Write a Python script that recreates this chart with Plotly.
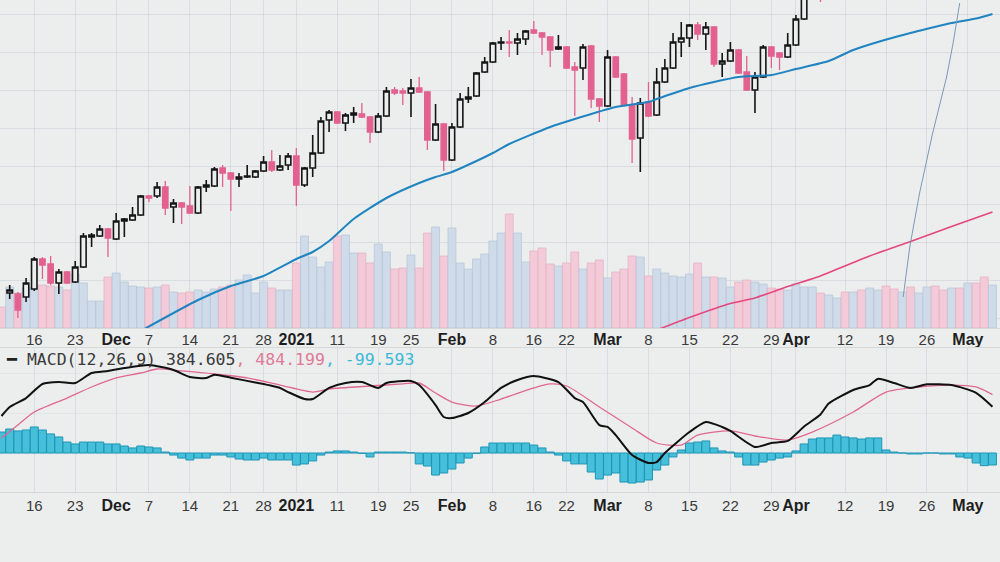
import pandas as pd
import plotly.graph_objects as go

# ---------------- categories (trading days) ----------------
holidays = ["2020-11-26", "2020-12-25", "2021-01-01", "2021-01-18", "2021-02-15", "2021-04-02"]
dates = [d.strftime("%Y-%m-%d") for d in pd.bdate_range("2020-11-10", "2021-05-06")
         if d.strftime("%Y-%m-%d") not in holidays]
n = len(dates)
xi = list(range(n))

tick_dates = ["2020-11-16", "2020-11-23", "2020-12-01", "2020-12-07", "2020-12-14", "2020-12-21",
              "2020-12-28", "2021-01-04", "2021-01-11", "2021-01-19", "2021-01-25", "2021-02-01",
              "2021-02-08", "2021-02-16", "2021-02-22", "2021-03-01", "2021-03-08", "2021-03-15",
              "2021-03-22", "2021-03-29", "2021-04-01", "2021-04-12", "2021-04-19", "2021-04-26",
              "2021-05-03"]
tick_labels = ["16", "23", "Dec", "7", "14", "21", "28", "2021", "11", "19", "25", "Feb",
               "8", "16", "22", "Mar", "8", "15", "22", "29", "Apr", "12", "19", "26", "May"]
bold_labels = {"Dec", "2021", "Feb", "Mar", "Apr", "May"}

# ---------------- candles (days 1..100) ----------------
candle_first = 1
opens = [11370, 11360, 11330, 11410, 11710, 11660, 11470, 11580, 11480, 11630,
         11930, 11940, 12010, 11910, 12090, 12100, 12150, 12340, 12340, 12430,
         12230, 12270, 12240, 12170, 12430, 12440, 12620, 12570, 12510, 12530,
         12530, 12590, 12680, 12600, 12650, 12740, 12450, 12620, 12770, 13100,
         13180, 13070, 13150, 13160, 13130, 12980, 13140, 13400, 13390, 13370,
         13420, 13380, 12900, 13060, 12700, 13030, 13310, 13340, 13580, 13680,
         13870, 13880, 13870, 13910, 14000, 13970, 13930, 13810, 13830, 13630,
         13620, 13840, 13310, 13240, 13730, 13560, 13250, 12920, 13280, 13150,
         13480, 13620, 13880, 13920, 14050, 13960, 14030, 13660, 13690, 13800,
         13580, 13400, 13530, 13830, 13770, 13730, 13850, 14110, 14420, 14600]
highs = [11450, 11380, 11520, 11730, 11730, 11740, 11610, 11590, 11690, 11970,
         11970, 12050, 12020, 12170, 12120, 12230, 12350, 12350, 12480, 12490,
         12310, 12280, 12440, 12440, 12500, 12630, 12650, 12580, 12570, 12650,
         12600, 12740, 12800, 12750, 12770, 12820, 12630, 12950, 13130, 13200,
         13190, 13170, 13230, 13270, 13140, 13170, 13430, 13430, 13420, 13510,
         13530, 13390, 13260, 13070, 13070, 13370, 13430, 13580, 13730, 13880,
         13930, 14000, 13970, 14000, 14090, 13980, 13940, 13950, 13840, 13680,
         13860, 13850, 13320, 13800, 13740, 13570, 13330, 13320, 13480, 13620,
         13710, 13970, 14080, 14060, 14080, 14080, 14040, 13770, 13880, 13810,
         13740, 13580, 13850, 13840, 13780, 13970, 14150, 14450, 14700, 14650]
lows = [11310, 11120, 11280, 11390, 11510, 11450, 11360, 11460, 11470, 11620,
        11830, 11930, 11730, 11900, 11930, 12090, 12140, 12280, 12320, 12150,
        12070, 12060, 12160, 12160, 12380, 12430, 12430, 12190, 12430, 12520,
        12520, 12580, 12580, 12590, 12600, 12240, 12430, 12530, 12760, 12980,
        13060, 12990, 13070, 13120, 12870, 12970, 13130, 13350, 13250, 13130,
        13370, 12800, 12890, 12590, 12690, 13020, 13270, 13330, 13570, 13670,
        13800, 13730, 13750, 13850, 13960, 13750, 13630, 13800, 13610, 13140,
        13500, 13220, 13080, 13230, 13520, 13240, 12670, 12580, 13130, 13140,
        13470, 13610, 13730, 13830, 13900, 13800, 13630, 13530, 13680, 13560,
        13390, 13170, 13520, 13620, 13600, 13720, 13840, 14100, 14440, 14280]
closes = [11400, 11200, 11470, 11710, 11650, 11470, 11580, 11470, 11630, 11940,
          11950, 12010, 11920, 12090, 12110, 12150, 12340, 12320, 12430, 12220,
          12270, 12230, 12170, 12430, 12450, 12610, 12570, 12510, 12530, 12540,
          12590, 12680, 12600, 12640, 12740, 12450, 12620, 12770, 13090, 13180,
          13070, 13150, 13170, 13130, 12980, 13140, 13390, 13370, 13370, 13420,
          13380, 12900, 13060, 12700, 13030, 13310, 13330, 13570, 13680, 13870,
          13880, 13870, 13910, 13990, 13970, 13930, 13800, 13830, 13620, 13600,
          13830, 13310, 13240, 13730, 13530, 13250, 12910, 13270, 13140, 13480,
          13620, 13880, 13920, 14050, 13960, 14030, 13660, 13690, 13800, 13570,
          13400, 13530, 13830, 13740, 13730, 13850, 14110, 14400, 14650, 14380]

# ---------------- volume (millions), all days ----------------
volume = [10.5, 20.5, 17.5, 20, 20.5, 21.5, 21, 20.5, 19, 27,
          22.5, 13.5, 13.5, 25.5, 27.5, 23, 21, 20.5, 20, 20.5,
          21.5, 18, 17.5, 18, 19, 18, 19.5, 20.5, 21.5, 24,
          26.5, 17.5, 23, 20, 19, 19, 32.5, 46, 35.5, 30.5,
          33, 46, 46.5, 37.5, 37.5, 32.5, 42, 38, 29.5, 30,
          36.5, 30, 47.5, 50.5, 36, 50, 32.5, 29.5, 34.5, 37,
          43.5, 47.5, 57, 47.5, 33, 38.5, 40, 32, 31, 32.5,
          38, 29.5, 32.5, 34, 25, 28, 29.5, 36, 35.5, 26,
          29.5, 27.5, 26, 25.5, 27, 32.5, 25.5, 25.5, 25, 20.5,
          23, 24, 23, 22, 20, 19.5, 19, 22, 20.5, 20.5,
          17.5, 16.5, 15, 18, 18, 19, 20, 19, 21, 19.5,
          18, 20.5, 17.5, 20.5, 21, 19, 20, 20, 22.5, 22.5,
          25.5, 21.5]
# direction of days without a visible candle (day 0 and days 101..121)
extra_up = {0: False, 101: True, 102: True, 103: False, 104: True, 105: False, 106: True,
            107: True, 108: False, 109: False, 110: True, 111: False, 112: True, 113: True,
            114: False, 115: False, 116: True, 117: False, 118: True, 119: False, 120: False,
            121: True}

# ---------------- moving averages (read at these days) ----------------
ma_blue_days = [17, 24, 28, 32, 36, 38, 40, 43, 47, 51, 53, 55, 58, 60, 62, 67, 70, 75, 79, 80,
                84, 87, 90, 94, 97, 101, 104, 107, 111, 116, 119, 121]
ma_blue_vals = [10990, 11300, 11440, 11540, 11710, 11780, 11890, 12110, 12320, 12470, 12530,
                12580, 12690, 12770, 12860, 13030, 13110, 13230, 13280, 13310, 13420, 13480,
                13530, 13550, 13610, 13690, 13800, 13880, 13970, 14070, 14115, 14160]
ma_pink_days = [80, 84, 89, 92, 96, 100, 106, 111, 116, 121]
ma_pink_vals = [11000, 11125, 11265, 11320, 11435, 11540, 11740, 11885, 12035, 12180]

# stray hand-drawn trend line seen on the screen
drawing_days = [110.1, 110.9, 112.1, 113.7, 115.4, 116.2, 116.8, 117.0]
drawing_vals = [11330, 11830, 12370, 12970, 13530, 13870, 14170, 14270]

# ---------------- MACD (12,26,9) ----------------
macd_days = [0, 1, 3, 5, 7, 9, 11, 13, 15, 18, 21, 23, 25, 26, 28, 31, 34, 35, 37, 38, 40, 42,
             44, 46, 47, 50, 51, 53, 54, 55, 57, 59, 61, 63, 65, 68, 70, 71, 73, 74, 75, 77,
             79, 80, 81, 84, 86, 88, 89, 92, 94, 96, 98, 100, 101, 104, 106, 107, 109, 111,
             113, 116, 119, 121]
macd_vals = [307, 382, 456, 573, 589, 581, 664, 681, 705, 730, 689, 631, 622, 650, 625, 585,
             540, 506, 448, 448, 540, 581, 589, 540, 581, 598, 564, 398, 299, 290, 332, 423,
             540, 606, 639, 589, 456, 423, 232, 216, 149, -17, -83, -75, 0, 174, 257, 216,
             183, 50, 83, 100, 220, 320, 410, 523, 564, 615, 581, 540, 570, 564, 500, 384.605]
signal_days = [0, 2, 4, 8, 11, 14, 17, 19, 22, 26, 30, 34, 38, 40, 45, 49, 51, 53, 55, 58,
               61, 65, 67, 69, 73, 77, 80, 83, 85, 89, 92, 96, 99, 104, 108, 112, 116, 119, 121]
signal_vals = [125, 232, 340, 456, 548, 623, 664, 697, 681, 656, 623, 564, 506, 531, 556,
               573, 581, 498, 423, 390, 448, 540, 573, 556, 382, 208, 83, 66, 149, 183, 141,
               108, 174, 340, 506, 548, 564, 548, 484.199]
hist_vals = [174, 199, 183, 191, 216, 191, 158, 133, 91, 75,
             91, 91, 91, 75, 75, 58, 42, 58, 50, 42,
             8, -17, -42, -58, -42, -42, -17, -17, -33, -50,
             -58, -58, -42, -58, -58, -58, -100, -91, -66, -17,
             8, 17, 17, 8, -3, -33, 8, 8, 8, 8,
             2, -91, -108, -183, -166, -133, -83, -42, -3, 50,
             83, 83, 83, 83, 83, 66, 42, 8, -17, -66,
             -91, -91, -158, -216, -183, -166, -241, -249, -241, -224,
             -141, -100, -33, 25, 83, 91, 100, 42, 17, 8,
             -33, -100, -100, -75, -58, -42, -33, 17, 75, 116,
             125, 125, 149, 133, 125, 116, 125, 125, 25, 8,
             0, -8, -8, 0, 0, -8, -8, -33, -42, -83,
             -105, -99.593]

# ---------------- build ----------------
BG = "#eceeee"
PINK = "#e2618f"
idx_of = {d: i for i, d in enumerate(dates)}
tickvals = [idx_of[d] for d in tick_dates]
ticktext = [("<b><span style='font-size:16px;color:#1e1e1e'>%s</span></b>" % t) if t in bold_labels else t
            for t in tick_labels]

pad = [None] * n
o, h, l, c = pad[:], pad[:], pad[:], pad[:]
for k in range(len(opens)):
    j = candle_first + k
    o[j], h[j], l[j], c[j] = opens[k], highs[k], lows[k], closes[k]

vol_colors, vol_lines = [], []
for i in range(n):
    up = extra_up[i] if o[i] is None else c[i] >= o[i]
    vol_colors.append("#cfdbe8" if up else "#f3cad8")
    vol_lines.append("#b7c8dc" if up else "#e6b3c5")

fig = go.Figure()
fig.add_trace(go.Bar(x=xi, y=volume, marker=dict(color=vol_colors, line=dict(color=vol_lines, width=0.8)),
                     xaxis="x", yaxis="y", hoverinfo="skip"))
fig.add_trace(go.Candlestick(x=xi, open=o, high=h, low=l, close=c, xaxis="x", yaxis="y3",
                             increasing=dict(line=dict(color="#151515", width=1.6), fillcolor=BG),
                             decreasing=dict(line=dict(color=PINK, width=1.3), fillcolor=PINK),
                             whiskerwidth=0))
fig.add_trace(go.Scatter(x=ma_blue_days, y=ma_blue_vals, mode="lines", xaxis="x", yaxis="y3",
                         line=dict(color="#1f84bf", width=2, shape="spline", smoothing=0.6)))
fig.add_trace(go.Scatter(x=ma_pink_days, y=ma_pink_vals, mode="lines", xaxis="x", yaxis="y3",
                         line=dict(color="#e3477e", width=1.6, shape="spline", smoothing=0.6)))
fig.add_trace(go.Scatter(x=drawing_days, y=drawing_vals, mode="lines", xaxis="x", yaxis="y3",
                         line=dict(color="#7d98b8", width=1)))

fig.add_trace(go.Bar(x=xi, y=hist_vals, xaxis="x2", yaxis="y2",
                     marker=dict(color="#46c0da", line=dict(color="#1f95b6", width=1))))
fig.add_trace(go.Scatter(x=signal_days, y=signal_vals, mode="lines", xaxis="x2", yaxis="y2",
                         line=dict(color="#e0688f", width=1.3, shape="spline", smoothing=0.7)))
fig.add_trace(go.Scatter(x=macd_days, y=macd_vals, mode="lines", xaxis="x2", yaxis="y2",
                         line=dict(color="#111111", width=2, shape="spline", smoothing=0.6)))

xr = [-0.183, 121.92]
grid = "rgba(150,165,180,0.22)"
tickfont = dict(family="Liberation Sans, Arial, sans-serif", size=15, color="#3a3a3a")
common_x = dict(range=xr, tickmode="array", tickvals=tickvals, ticktext=ticktext, tickfont=tickfont,
                tickangle=0, showgrid=True, gridcolor=grid, gridwidth=1, zeroline=False, ticks="",
                showline=True, linecolor="#d3d8db", linewidth=1, fixedrange=True)

top_dom = [1 - 328 / 562, 1]
macd_dom = [1 - 492 / 562, 1 - 348 / 562]

fig.update_layout(
    width=1000, height=562, autosize=False,
    margin=dict(l=0, r=0, t=0, b=0),
    paper_bgcolor=BG, plot_bgcolor=BG,
    showlegend=False, bargap=0.03, boxgap=0.05,
    xaxis=dict(domain=[0, 1], anchor="y", rangeslider=dict(visible=False),
               ticklabelstandoff=-2, **common_x),
    yaxis=dict(domain=top_dom, range=[0, 164], showticklabels=False, showgrid=True,
               gridcolor=grid, tick0=5, dtick=19, zeroline=False, fixedrange=True),
    yaxis3=dict(overlaying="y", anchor="x", range=[11020, 14300], showticklabels=False,
                showgrid=False, zeroline=False, fixedrange=True),
    xaxis2=dict(domain=[0, 1], anchor="y2", mirror=True, **common_x),
    yaxis2=dict(domain=macd_dom, range=[-323.7, 871.5], showticklabels=False, showgrid=True,
                gridcolor="rgba(150,165,180,0.12)", tick0=0, dtick=332, zeroline=False, fixedrange=True),
)

legend_txt = ("<span style='color:#222'>━</span> <span style='color:#3a3a3a'>MACD(12,26,9) %.3f</span>"
              "<span style='color:#e07a98'>, %.3f</span><span style='color:#3fb9d8'>, %.3f</span>"
              % (macd_vals[-1], signal_vals[-1], hist_vals[-1]))
fig.add_annotation(text=legend_txt, xref="paper", yref="paper", x=0.004, y=1 - 359 / 562,
                   xanchor="left", yanchor="middle", showarrow=False,
                   font=dict(family="DejaVu Sans Mono, monospace", size=16.5, color="#3a3a3a"))

fig.write_html("out.html", config={"displayModeBar": False},
               post_script="document.body.style.margin='0';document.body.style.background='%s';" % BG)
